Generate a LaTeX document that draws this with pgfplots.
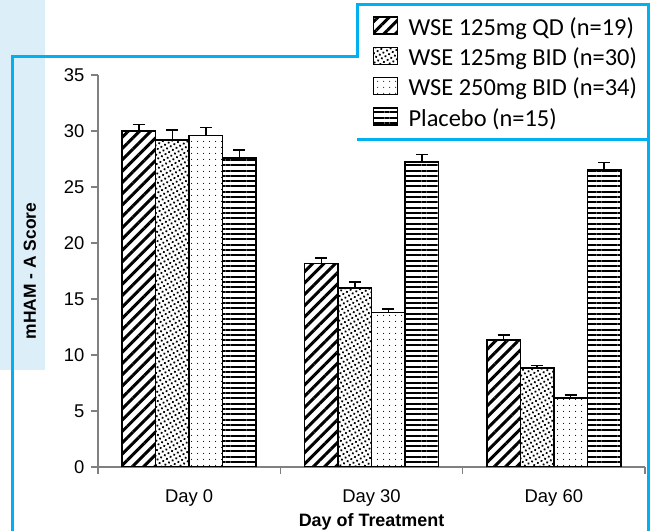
\documentclass[border=0pt]{standalone}
\usepackage{fontspec}
\setmainfont{Liberation Sans}
\newfontfamily\calib{Carlito}
\usepackage{pgfplots}
\usepackage{pgfplotstable}
\pgfplotsset{compat=1.18}
\usetikzlibrary{patterns.meta}
\definecolor{framec}{RGB}{0,176,240}
\definecolor{lblue}{RGB}{220,238,247}
\definecolor{axgray}{RGB}{128,128,128}

\pgfplotstableread{
x v1 e1 v2 e2 v3 e3 v4 e4
0 30.0 0.6 29.2 0.9 29.6 0.7 27.6 0.7
1 18.15 0.5 16.0 0.5 13.8 0.3 27.25 0.65
2 11.35 0.45 8.83 0.21 6.15 0.3 26.5 0.7
}\data

\begin{document}
\begin{tikzpicture}[x=1bp,y=1bp]
\path[use as bounding box] (0,0) rectangle (650,531);
\fill[lblue] (0,161) rectangle (45,531);
\draw[framec, line width=3bp] (12,-5) -- (12,474) -- (357,474) -- (357,526) -- (648,526) -- (648,-5);
\draw[framec, line width=3bp] (357,391) -- (648,391);
\begin{axis}[
  at={(98bp,64bp)}, anchor=south west,
  width=547bp, height=392bp, scale only axis,
  xmin=-0.5, xmax=2.5, ymin=0, ymax=35,
  axis x line=bottom, axis y line=left,
  axis line style={axgray, line width=1.2bp, -},
  ybar=0pt, bar width=33.5bp,
  xtick={-0.5,0.5,1.5,2.5}, xticklabels={},
  extra x ticks={0,1,2}, extra x tick labels={Day 0,Day 30,Day 60},
  extra x tick style={major tick length=0pt, tick label style={yshift=-19bp}},
  ytick={0,5,...,35},
  /pgf/number format/assume math mode=true,
  tick style={axgray, line width=1.2bp}, major tick length=7bp, tick align=outside,
  tick label style={font=\fontsize{18.5}{20}\selectfont},
  yticklabel style={xshift=-3bp},
  xlabel={Day of Treatment}, ylabel={mHAM - A Score},
  xlabel style={font=\bfseries\fontsize{18}{20}\selectfont, yshift=7bp},
  ylabel style={font=\bfseries\fontsize{17.5}{19}\selectfont, yshift=21bp},
  error bars/y dir=plus, error bars/y explicit,
  error bars/error bar style={black, line width=1.5bp},
  error bars/error mark options={black, line width=1.5bp, mark size=6bp, rotate=90},
  legend style={at={(0.5027,1.153)}, anchor=north west, draw=none, fill=none,
    font=\calib\fontsize{24.5}{26}\selectfont, row sep=7bp, inner sep=0pt},
  legend cell align=left,
  legend image code/.code={\draw[#1, line width=1.3bp] (0bp,-7bp) rectangle (24bp,10bp); \path (32bp,0bp);},
]
\addplot[draw=black, line width=1.5bp, pattern={Lines[angle=45,distance=8bp,line width=3bp]}, pattern color=black]
  table[x=x, y=v1, y error=e1]{\data};
\addplot[draw=black, line width=1.5bp, pattern={Dots[angle=30,distance=4.2bp,radius=1.25bp]}, pattern color=black]
  table[x=x, y=v2, y error=e2]{\data};
\addplot[draw=black, line width=1.5bp, pattern={Dots[angle=0,distance=6bp,radius=0.6bp]}, pattern color=black]
  table[x=x, y=v3, y error=e3]{\data};
\addplot[draw=black, line width=1.5bp, pattern={Lines[angle=0,distance=5.3bp,line width=2bp]}, pattern color=black]
  table[x=x, y=v4, y error=e4]{\data};
\legend{WSE 125mg QD (n=19), WSE 125mg BID (n=30), WSE 250mg BID (n=34), Placebo (n=15)}
\end{axis}
\end{tikzpicture}
\end{document}
